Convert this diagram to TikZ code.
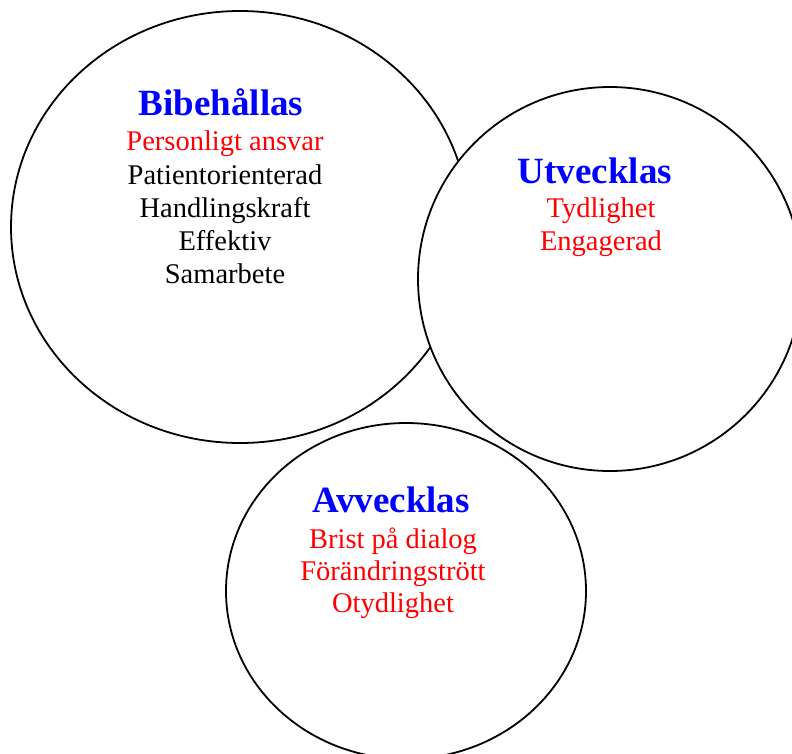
\documentclass[tikz,border=0pt]{standalone}
\usepackage{fontspec}
\setmainfont{Liberation Serif}
\usepackage{xcolor}
\definecolor{headBlue}{HTML}{0000FF}
\definecolor{itemRed} {HTML}{FF0000}

\begin{document}
\begin{tikzpicture}[x=1pt, y=-1pt,
    ring/.style={draw, line width=1.8pt, fill=white},
    head/.style={anchor=base, inner sep=0pt, text=headBlue,
                 font=\fontsize{37}{37}\selectfont\bfseries},
    item/.style={anchor=base, inner sep=0pt,
                 font=\fontsize{28.5}{28.5}\selectfont}
]
\useasboundingbox (0,0) rectangle (792,753);
\clip (0,0) rectangle (792,753);
% Circles
\draw[ring] (240,227) ellipse [x radius=229, y radius=216];
\draw[ring] (610,279) ellipse [x radius=192, y radius=192];
\draw[ring] (406,591) ellipse [x radius=180, y radius=168];
% Bibehållas
\node[head] (keep) at (221,115) {Bibehållas};
\foreach \n/\y/\c/\t in {keepA/150/itemRed/Personligt ansvar,
                         keepB/184/black/Patientorienterad,
                         keepC/217/black/Handlingskraft,
                         keepD/250/black/Effektiv,
                         keepE/283/black/Samarbete} {
    \node[item, text=\c] (\n) at (225,\y) {\t};
}
% Utvecklas
\node[head] (grow) at (595,183) {Utvecklas};
\foreach \n/\y/\t in {growA/217/Tydlighet, growB/250/Engagerad} {
    \node[item, text=itemRed] (\n) at (601,\y) {\t};
}
% Avvecklas
\node[head] (drop) at (391,512) {Avvecklas};
\foreach \n/\y/\t in {dropA/548/Brist på dialog, dropB/580/Förändringstrött,
                      dropC/612/Otydlighet} {
    \node[item, text=itemRed] (\n) at (393,\y) {\t};
}
\end{tikzpicture}
\end{document}
